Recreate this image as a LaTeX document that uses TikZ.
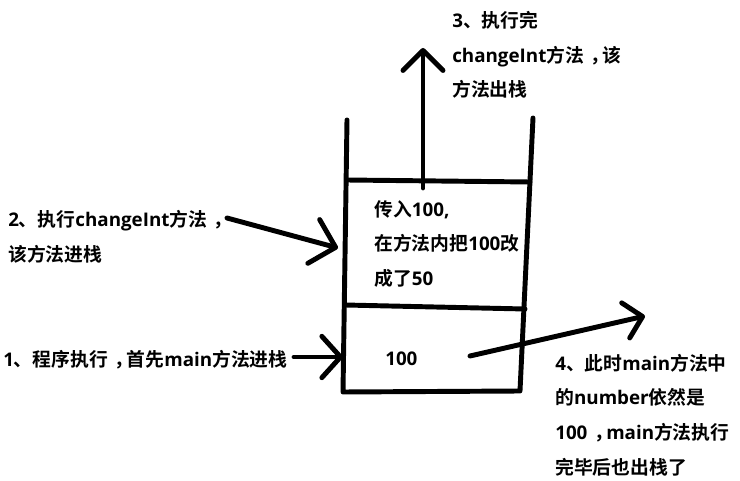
\documentclass[tikz,border=0pt]{standalone}
\usepackage{fontspec}
\setmainfont{Noto Sans CJK SC}[BoldFont={Noto Sans CJK SC Bold}]
\newfontfamily\lafont{Open Sans}
\newcommand\lat[1]{{\lafont\bfseries #1}}
\newcommand\cma{\hspace{0.35em}，\hspace{-0.35em}}
\usetikzlibrary{arrows.meta}
\begin{document}
\begin{tikzpicture}[x=0.75pt,y=-0.75pt,
  ink/.style={line width=3.7pt,line cap=round,line join=round},
  lbl/.style={anchor=west,inner sep=0pt,font=\fontsize{14.1pt}{26pt}\selectfont\bfseries,align=left},
  barb/.style={-{Straight Barb[length=#1,width=30pt,round]}},
  barb/.default=14pt]
\useasboundingbox (0,0) rectangle (740,481);
% stack walls
\coordinate (lt) at (347,120);
\coordinate (lb) at (343,392);
\coordinate (rt) at (533,118);
\coordinate (rb) at (520,391);
\draw[ink] (lt) -- (lb) -- (rb) -- (rt);
\draw[ink] (347,180) -- (530,182);
\draw[ink] (345,305) -- (525,309);
% texts
\node[lbl] (t3) at (452,55) {\lat{3}、执行完\\\lat{changeInt}方法\cma 该\\方法出栈};
\node[lbl] (t2) at (8,237) {\lat{2}、执行\lat{changeInt}方法\cma\\该方法进栈};
\node[lbl] (t1) at (3,360) {\lat{1}、程序执行\cma 首先\lat{main}方法进栈};
\node[lbl] (ts) at (374,244) {传入\lat{100,}\\在方法内把\lat{100}改\\成了\lat{50}};
\node[lbl] (tm) at (385,359) {\lat{100}};
\node[lbl] (t4) at (555,415) {\lat{4}、此时\lat{main}方法中\\的\lat{number}依然是\\\lat{100}\cma\lat{main}方法执行\\完毕后也出栈了};
% arrows
\coordinate (a3s) at (423,188);
\coordinate (a3e) at (423,48);
\draw[ink,barb=15pt] (a3s) -- (a3e);
\coordinate (a2s) at (227,218);
\coordinate (a2e) at (338,248);
\draw[ink,-{Straight Barb[length=17pt,width=34pt,round]}] (a2s) -- (a2e);
\coordinate (a1s) at (294,357);
\coordinate (a1e) at (343,357);
\draw[ink,-{Straight Barb[length=14pt,width=31pt,round]}] (a1s) -- (a1e);
\coordinate (a4s) at (470,356);
\coordinate (a4e) at (645,316);
\draw[ink,-{Straight Barb[length=13pt,width=27pt,round]}] (a4s) -- (a4e);
\end{tikzpicture}
\end{document}
